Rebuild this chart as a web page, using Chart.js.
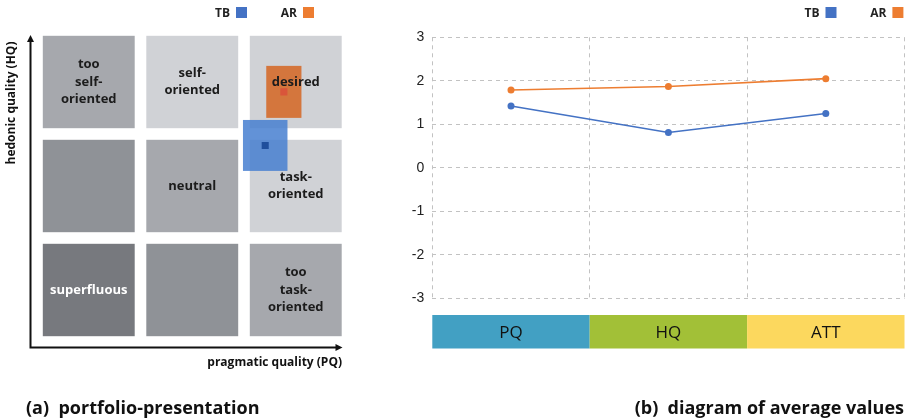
<!DOCTYPE html>
<html>
<head>
<meta charset="utf-8">
<script src="https://cdn.jsdelivr.net/npm/chart.js@4/dist/chart.umd.min.js"></script>
<style>
  html, body { margin: 0; padding: 0; background: #fff; }
  #page { position: relative; width: 912px; height: 418px; overflow: hidden; font-family: "Open Sans", "DejaVu Sans", sans-serif; }
  #left { position: absolute; left: 0; top: 0; width: 360px; height: 418px; }
  #right { position: absolute; left: 380px; top: 0; width: 532px; height: 418px; }
  .caption { position: absolute; font-weight: 700; font-size: 18px; line-height: 20px; color: #111; white-space: pre; }
</style>
</head>
<body>
<div id="page">
  <div id="left"><canvas id="portfolio" width="360" height="418"></canvas></div>
  <div id="right"><canvas id="averages" width="532" height="418"></canvas></div>
  <div class="caption" style="left:26px; top:397px;">(a)  portfolio-presentation</div>
  <div class="caption" style="right:8px; top:397px;">(b)  diagram of average values</div>
</div>
<script>
// Products being compared
const products = ['TB', 'AR'];
// Scales of the average-value diagram
const scaleNames = ['PQ', 'HQ', 'ATT'];
// Mean value per scale
const tbMeans = [1.42, 0.81, 1.25];
const arMeans = [1.79, 1.87, 2.05];
// Portfolio position per product (PQ, HQ) and confidence half-widths
const portfolioPQ = [1.41, 1.77];
const portfolioHQ = [0.78, 1.81];
const confPQ = [0.43, 0.34];
const confHQ = [0.49, 0.50];
// Portfolio region boundaries (both axes) and region names, rows top to bottom
const regionBounds = [-3, -1, 1, 3];
const regionNames = [
  ['too\nself-\noriented', 'self-\noriented', 'desired'],
  ['', 'neutral', 'task-\noriented'],
  ['superfluous', '', 'too\ntask-\noriented']
];
// Value axis of the average diagram
const valueMin = -3;
const valueMax = 3;

// Styles
const productColors = ['#4472c4', '#ed7d31'];
const markerColors = ['#1f4f9c', '#d9553a'];
const boxColors = ['rgba(72,128,208,0.86)', 'rgba(212,110,48,0.92)'];
const regionFill = [
  ['#a6a8ad', '#d0d2d6', '#d0d2d6'],
  ['#8f9297', '#a6a8ad', '#d0d2d6'],
  ['#77797e', '#8f9297', '#a6a8ad']
];
const regionText = [
  ['#1c1c1c', '#1c1c1c', '#1c1c1c'],
  ['#1c1c1c', '#1c1c1c', '#1c1c1c'],
  ['#ffffff', '#1c1c1c', '#1c1c1c']
];
const bandColors = ['#42a0c3', '#a2c037', '#fcd85e'];
const FONT = '"Open Sans", "DejaVu Sans", sans-serif';

// Product key: name followed by a coloured square
const productKey = {
  id: 'productKey',
  afterDraw(chart, args, o) {
    const ctx = chart.ctx;
    ctx.save();
    ctx.font = 'bold 12px ' + FONT;
    ctx.textAlign = 'right';
    ctx.textBaseline = 'middle';
    chart.data.datasets.forEach((ds, i) => {
      const bx = o.boxX[i];
      ctx.fillStyle = productColors[i];
      ctx.fillRect(bx, o.top, o.size, o.size);
      ctx.fillStyle = '#222';
      ctx.fillText(ds.label, bx - o.gap, o.top + o.size / 2 + 1);
    });
    ctx.restore();
  }
};

// Portfolio regions, confidence boxes, region names and axis arrows
const portfolioGrid = {
  id: 'portfolioGrid',
  beforeDatasetsDraw(chart, args, o) {
    const { ctx, chartArea: a, scales: { x, y } } = chart;
    ctx.save();
    const n = regionBounds.length - 1;
    for (let r = 0; r < n; r++) {
      for (let c = 0; c < n; c++) {
        const x0 = x.getPixelForValue(regionBounds[c]) + o.gap;
        const x1 = x.getPixelForValue(regionBounds[c + 1]) - o.gap;
        const y0 = y.getPixelForValue(regionBounds[n - r]) + o.gap;
        const y1 = y.getPixelForValue(regionBounds[n - r - 1]) - o.gap;
        ctx.fillStyle = regionFill[r][c];
        ctx.fillRect(x0, y0, x1 - x0, y1 - y0);
      }
    }
    products.forEach((p, i) => {
      const l = x.getPixelForValue(portfolioPQ[i] - confPQ[i]);
      const rt = x.getPixelForValue(portfolioPQ[i] + confPQ[i]);
      const t = y.getPixelForValue(portfolioHQ[i] + confHQ[i]);
      const b = y.getPixelForValue(portfolioHQ[i] - confHQ[i]);
      ctx.fillStyle = boxColors[i];
      ctx.fillRect(l, t, rt - l, b - t);
    });
    ctx.font = 'bold 13px ' + FONT;
    ctx.textAlign = 'center';
    ctx.textBaseline = 'middle';
    for (let r = 0; r < n; r++) {
      for (let c = 0; c < n; c++) {
        const name = regionNames[r][c];
        if (!name) continue;
        const cx = (x.getPixelForValue(regionBounds[c]) + x.getPixelForValue(regionBounds[c + 1])) / 2;
        const cy = (y.getPixelForValue(regionBounds[n - r]) + y.getPixelForValue(regionBounds[n - r - 1])) / 2;
        const lines = name.split('\n');
        ctx.fillStyle = regionText[r][c];
        lines.forEach((ln, k) => {
          ctx.fillText(ln, cx, cy + (k - (lines.length - 1) / 2) * o.lineHeight);
        });
      }
    }
    // axes with arrow heads
    const ax = a.left - 6.5, ay = a.bottom + 5.5;
    const topTip = a.top + 5, rightTip = a.right - 5;
    ctx.strokeStyle = '#111';
    ctx.fillStyle = '#111';
    ctx.lineWidth = 2;
    ctx.beginPath();
    ctx.moveTo(ax, ay + 1);
    ctx.lineTo(ax, topTip + 6);
    ctx.moveTo(ax - 1, ay);
    ctx.lineTo(rightTip - 6, ay);
    ctx.stroke();
    ctx.beginPath();
    ctx.moveTo(ax, topTip);
    ctx.lineTo(ax - 3.5, topTip + 7);
    ctx.lineTo(ax + 3.5, topTip + 7);
    ctx.closePath();
    ctx.fill();
    ctx.beginPath();
    ctx.moveTo(rightTip, ay);
    ctx.lineTo(rightTip - 7, ay - 3.5);
    ctx.lineTo(rightTip - 7, ay + 3.5);
    ctx.closePath();
    ctx.fill();
    // axis titles
    ctx.font = 'bold 12px ' + FONT;
    ctx.fillStyle = '#111';
    ctx.textAlign = 'right';
    ctx.fillText('pragmatic quality (PQ)', a.right - 5.5, a.bottom + 21);
    ctx.save();
    ctx.translate(a.left - 25, a.top + 73);
    ctx.rotate(-Math.PI / 2);
    ctx.textAlign = 'center';
    ctx.fillText('hedonic quality (HQ)', 0, 0);
    ctx.restore();
    ctx.restore();
  }
};

// Coloured band naming each scale under the diagram
const scaleBand = {
  id: 'scaleBand',
  afterDraw(chart, args, o) {
    const { ctx, chartArea: a, scales: { x } } = chart;
    const labels = chart.data.labels;
    const w = (a.right - a.left) / labels.length;
    ctx.save();
    ctx.font = '17px ' + FONT;
    ctx.textAlign = 'center';
    ctx.textBaseline = 'middle';
    labels.forEach((lab, i) => {
      const cx = x.getPixelForValue(i);
      ctx.fillStyle = bandColors[i];
      ctx.fillRect(cx - w / 2, a.bottom + o.offset, w, o.height);
      ctx.fillStyle = '#111';
      ctx.fillText(lab, cx, a.bottom + o.offset + o.height / 2 + 1);
    });
    ctx.restore();
  }
};

new Chart(document.getElementById('portfolio'), {
  type: 'scatter',
  data: {
    datasets: products.map((p, i) => ({
      label: p,
      data: [{ x: portfolioPQ[i], y: portfolioHQ[i] }],
      pointStyle: 'rect',
      pointRadius: 5,
      pointHoverRadius: 5,
      backgroundColor: markerColors[i],
      borderWidth: 0
    }))
  },
  options: {
    responsive: false,
    animation: false,
    events: [],
    layout: { padding: { left: 37, right: 12.5, top: 30, bottom: 76 } },
    scales: {
      x: { type: 'linear', min: regionBounds[0], max: regionBounds[3], display: false },
      y: { type: 'linear', min: regionBounds[0], max: regionBounds[3], display: false }
    },
    plugins: {
      legend: { display: false },
      tooltip: { enabled: false },
      portfolioGrid: { gap: 5.8, lineHeight: 17.5 },
      productKey: { boxX: [236, 303], top: 7, size: 11, gap: 6 }
    }
  },
  plugins: [portfolioGrid, productKey]
});

const gridColor = '#c2c2c2';
new Chart(document.getElementById('averages'), {
  type: 'line',
  data: {
    labels: scaleNames,
    datasets: [
      { label: products[0], data: tbMeans, borderColor: productColors[0], backgroundColor: productColors[0],
        borderWidth: 1.6, pointRadius: 3.5, pointBorderWidth: 0, tension: 0 },
      { label: products[1], data: arMeans, borderColor: productColors[1], backgroundColor: productColors[1],
        borderWidth: 1.6, pointRadius: 3.5, pointBorderWidth: 0, tension: 0 }
    ]
  },
  options: {
    responsive: false,
    animation: false,
    events: [],
    layout: { padding: { left: 0, right: 7.5, top: 37.3, bottom: 119.7 } },
    scales: {
      x: {
        type: 'category',
        offset: true,
        grid: { offset: true, color: gridColor, lineWidth: 1, drawTicks: false },
        border: { display: false, dash: [4, 4] },
        ticks: { display: false }
      },
      y: {
        min: valueMin,
        max: valueMax,
        ticks: { stepSize: 1, padding: 8, color: '#222', font: { family: '"Liberation Sans", Arial, sans-serif', size: 14 } },
        grid: { color: gridColor, lineWidth: 1, drawTicks: false },
        border: { display: false, dash: [4, 4] },
        afterFit(scale) { scale.width = 52.3; }
      }
    },
    plugins: {
      legend: { display: false },
      tooltip: { enabled: false },
      scaleBand: { offset: 16.7, height: 33.5 },
      productKey: { boxX: [445.5, 512.4], top: 7, size: 11, gap: 6 }
    }
  },
  plugins: [scaleBand, productKey]
});
</script>
</body>
</html>
